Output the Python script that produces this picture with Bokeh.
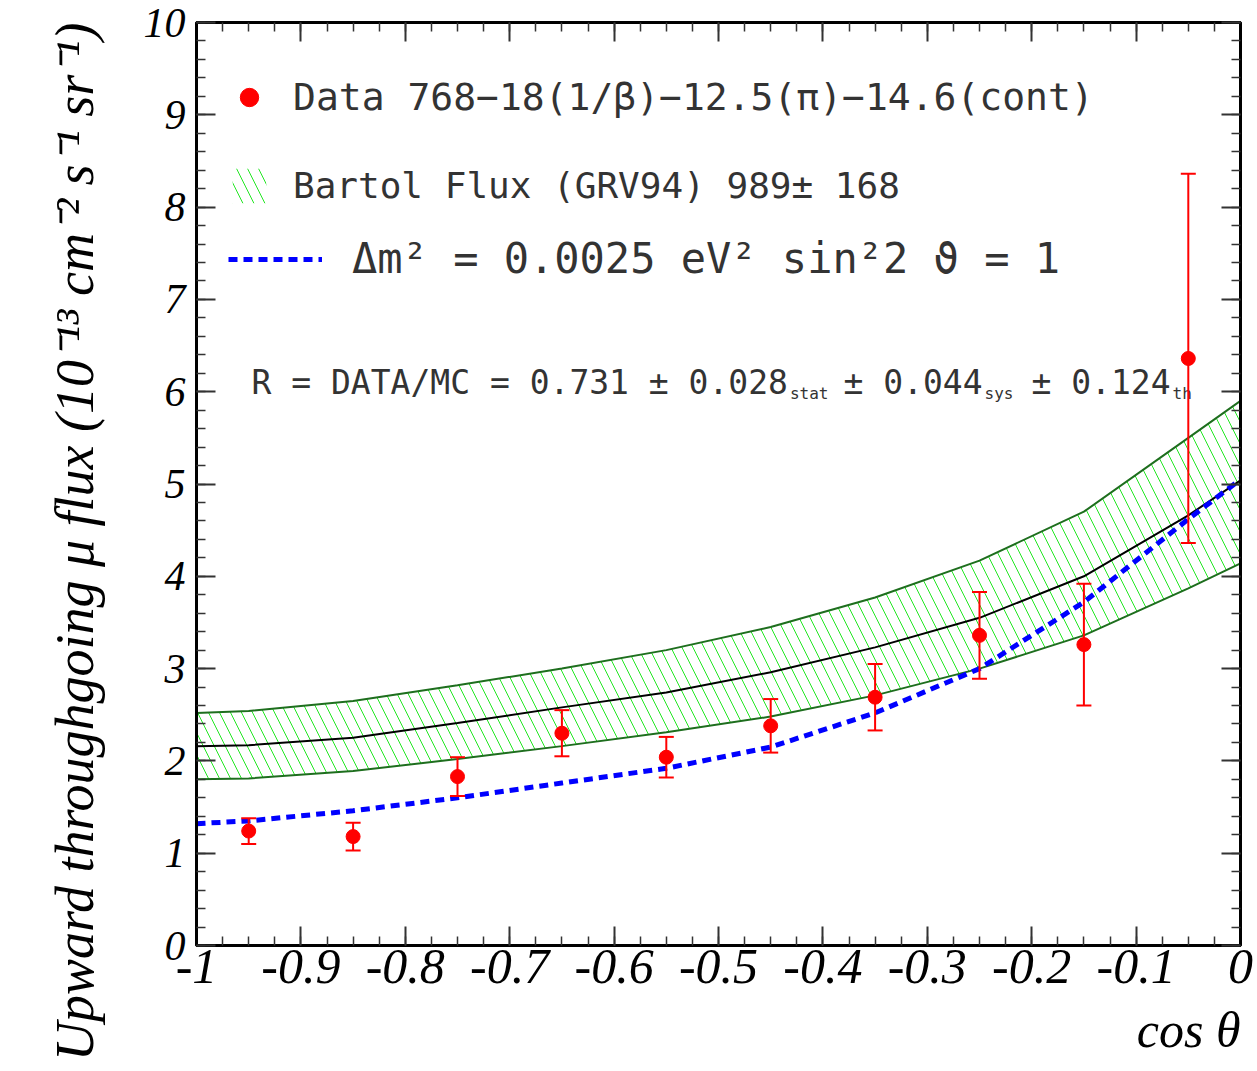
from bokeh.plotting import figure
from bokeh.models import (Range1d, FixedTicker, LinearAxis, Legend, LegendItem, Label, Title,
                          ColumnDataSource, Whisker, TeeHead, CustomJSTickFormatter)
from bokeh.core.properties import value
from bokeh.embed import file_html
from bokeh.resources import INLINE

# ---------------- data ----------------
cos_centers = [-0.95, -0.85, -0.75, -0.65, -0.55, -0.45, -0.35, -0.25, -0.15, -0.05]
data_flux = [1.24, 1.18, 1.83, 2.30, 2.04, 2.38, 2.69, 3.36, 3.26, 6.36]
data_err = [0.14, 0.15, 0.21, 0.25, 0.22, 0.29, 0.36, 0.47, 0.66, 2.00]

band_x = [-1.0, -0.95, -0.85, -0.75, -0.65, -0.55, -0.45, -0.35, -0.25, -0.15, -0.05, 0.0]
band_upper = [2.52, 2.54, 2.65, 2.82, 3.00, 3.20, 3.45, 3.77, 4.17, 4.70, 5.50, 5.90]
band_lower = [1.80, 1.81, 1.89, 2.02, 2.16, 2.31, 2.48, 2.71, 3.00, 3.36, 3.87, 4.14]
band_center = [2.16, 2.17, 2.25, 2.41, 2.58, 2.74, 2.96, 3.23, 3.55, 4.00, 4.66, 5.04]
osc_flux = [1.32, 1.35, 1.46, 1.60, 1.76, 1.92, 2.15, 2.52, 3.00, 3.72, 4.62, 5.05]

x_ticks = [-1.0, -0.9, -0.8, -0.7, -0.6, -0.5, -0.4, -0.3, -0.2, -0.1, 0.0]
x_tick_labels = ["-1", "-0.9", "-0.8", "-0.7", "-0.6", "-0.5", "-0.4", "-0.3", "-0.2", "-0.1", "0"]
y_ticks = [0, 1, 2, 3, 4, 5, 6, 7, 8, 9, 10]
y_tick_labels = ["0", "1", "2", "3", "4", "5", "6", "7", "8", "9", "10"]

legend_data = "Data 768\u221218(1/\u03b2)\u221212.5(\u03c0)\u221214.6(cont)"
legend_band = "Bartol Flux (GRV94) 989\u00b1 168"
legend_osc = "\u0394m\u00b2 = 0.0025 eV\u00b2 sin\u00b22 \u03d1 = 1"
r_parts = ["R = DATA/MC = 0.731 \u00b1 0.028", "\u00b1 0.044", "\u00b1 0.124"]
r_subs = ["stat", "sys", "th"]
y_title = "Upward throughgoing \u03bc flux (10\u207b\u00b9\u00b3 cm\u207b\u00b2 s\u207b\u00b9 sr\u207b\u00b9)"
x_title = "cos \u03b8"

# ---------------- layout ----------------
W, H = 1257, 1071
FL, FR, FT, FB = 196, 1240, 22, 945
XMIN, XMAX, YMIN, YMAX = -1.0, 0.0, 0.0, 10.0
MONO = "DejaVu Sans Mono"
MONO_ADV = 0.602
TEXT_COL = "#333333"


def px2x(px):
    return XMIN + (px - FL) / (FR - FL) * (XMAX - XMIN)


def py2y(py):
    return YMIN + (FB - py) / (FB - FT) * (YMAX - YMIN)


p = figure(width=W, height=H, x_range=Range1d(XMIN, XMAX), y_range=Range1d(YMIN, YMAX),
           output_backend="svg", toolbar_location=None,
           min_border_left=FL, min_border_right=W - FR, min_border_top=FT, min_border_bottom=H - FB)
p.xgrid.visible = False
p.ygrid.visible = False
p.outline_line_color = "black"
p.outline_line_width = 3
p.background_fill_color = "white"
p.border_fill_color = "white"

x_minor = [round(-1 + 0.025 * i, 3) for i in range(41)]
y_minor = [round(0.2 * i, 2) for i in range(51)]

JS_FMT = """
let b = 0;
for (let i = 0; i < tv.length; i++) { if (Math.abs(tv[i]-tick) < Math.abs(tv[b]-tick)) b = i; }
return tl[b];
"""
tick_fmt_x = CustomJSTickFormatter(args=dict(tv=x_ticks, tl=x_tick_labels), code=JS_FMT)
tick_fmt_y = CustomJSTickFormatter(args=dict(tv=y_ticks, tl=y_tick_labels), code=JS_FMT)
blank_fmt = CustomJSTickFormatter(code="return ''")


def style_axis(ax, show_labels, fsize="46px"):
    ax.major_tick_in = 19
    ax.major_tick_out = 0
    ax.minor_tick_in = 9
    ax.minor_tick_out = 0
    ax.axis_line_width = 3
    ax.axis_line_color = "black"
    ax.major_tick_line_width = 2
    ax.minor_tick_line_width = 1.5
    ax.major_tick_line_color = "#333333"
    ax.minor_tick_line_color = "#333333"
    if show_labels:
        ax.major_label_text_font = "Liberation Serif"
        ax.major_label_text_font_style = "italic"
        ax.major_label_text_font_size = fsize
        ax.major_label_text_color = "black"
    else:
        ax.formatter = blank_fmt
        ax.major_label_text_font_size = "10px"
        ax.major_label_standoff = 0
        ax.axis_label_standoff = 0


xax = p.xaxis[0]
xax.ticker = FixedTicker(ticks=x_ticks, minor_ticks=x_minor)
xax.formatter = tick_fmt_x
style_axis(xax, True, "50px")
xax.major_label_standoff = 4

yax = p.yaxis[0]
yax.ticker = FixedTicker(ticks=y_ticks, minor_ticks=y_minor)
yax.formatter = tick_fmt_y
style_axis(yax, True, "42px")
yax.major_label_standoff = 11

top_ax = LinearAxis(ticker=FixedTicker(ticks=x_ticks, minor_ticks=x_minor))
style_axis(top_ax, False)
p.add_layout(top_ax, "above")
right_ax = LinearAxis(ticker=FixedTicker(ticks=y_ticks, minor_ticks=y_minor))
style_axis(right_ax, False)
p.add_layout(right_ax, "right")

# axis titles as panel titles (outside the frame)
p.add_layout(Title(text=y_title, align="right", text_font="Liberation Serif", text_font_style="italic",
                   text_font_size="54px", text_color="black", standoff=72), "left")
p.add_layout(Title(text=x_title, align="right", text_font="Liberation Serif", text_font_style="italic",
                   text_font_size="50px", text_color="black", standoff=28), "below")

# ---------------- glyphs ----------------
bsrc = ColumnDataSource(dict(x=band_x, lo=band_lower, hi=band_upper, mid=band_center, osc=osc_flux))
band = p.varea(x="x", y1="lo", y2="hi", source=bsrc, fill_color=None,
               hatch_pattern="\\", hatch_color="#22e622", hatch_scale=22, hatch_weight=1)
p.line("x", "hi", source=bsrc, line_color="#1e6e1e", line_width=2)
p.line("x", "lo", source=bsrc, line_color="#1e6e1e", line_width=2)
p.segment(x0=[band_x[0], band_x[-1]], y0=[band_lower[0], band_lower[-1]],
          x1=[band_x[0], band_x[-1]], y1=[band_upper[0], band_upper[-1]],
          line_color="#22e022", line_width=2)
p.line("x", "mid", source=bsrc, line_color="black", line_width=2)
osc = p.line("x", "osc", source=bsrc, line_color="#0000ff", line_width=5, line_dash="9 6")

dsrc = ColumnDataSource(dict(x=cos_centers, y=data_flux,
                             lo=[v - e for v, e in zip(data_flux, data_err)],
                             hi=[v + e for v, e in zip(data_flux, data_err)]))
wh = Whisker(source=dsrc, base="x", upper="hi", lower="lo", dimension="height",
             line_color="red", line_width=2, level="overlay",
             upper_head=TeeHead(size=15, line_color="red", line_width=2),
             lower_head=TeeHead(size=15, line_color="red", line_width=2))
p.add_layout(wh)
pts = p.scatter("x", "y", source=dsrc, size=14, fill_color="red", line_color="red")


# ---------------- legends ----------------
def make_legend(label, rend, loc, gw, gh, standoff, fsize):
    lg = Legend(items=[LegendItem(label=value(label), renderers=[rend])], location=loc,
                glyph_width=gw, glyph_height=gh, label_standoff=standoff, padding=0, margin=0,
                border_line_color=None, background_fill_alpha=0,
                label_text_font=MONO, label_text_font_size=fsize,
                label_text_color=TEXT_COL, label_text_baseline="middle")
    p.add_layout(lg, "center")


make_legend(legend_data, pts, (30, FB - 120), 46, 46, 21, "38px")
make_legend(legend_band, band, (32, FB - 207), 42, 43, 23, "36px")
make_legend(legend_osc, osc, (32, FB - 283), 94, 30, 30, "42px")

# R text
R_SIZE, SUB_SIZE = 33, 16
r_starts_px = [251, 843, 1031]
for t, sx in zip(r_parts, r_starts_px):
    p.add_layout(Label(x=px2x(sx), y=py2y(382), text=t, text_align="left", text_baseline="middle",
                       text_font=MONO, text_font_size=f"{R_SIZE}px", text_color=TEXT_COL))
for t, base, sub in zip(r_parts, r_starts_px, r_subs):
    end_px = base + len(t) * MONO_ADV * R_SIZE + 2
    p.add_layout(Label(x=px2x(end_px), y=py2y(393), text=sub, text_align="left", text_baseline="middle",
                       text_font=MONO, text_font_size=f"{SUB_SIZE}px", text_color=TEXT_COL))

open("out.html", "w").write(file_html(p, INLINE))
